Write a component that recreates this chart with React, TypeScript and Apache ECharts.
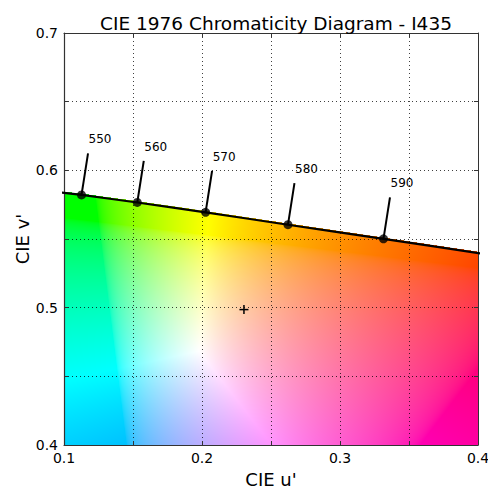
import React, { useEffect, useRef } from "react";
import * as echarts from "echarts";

// Spectral locus (CIE 1976 u'v'), wavelengths in nm
const locusWavelengths = [540, 545, 550, 555, 560, 565, 570, 575, 580, 585, 590, 595, 600];
const locusU = [0.0792, 0.0953, 0.1127, 0.1319, 0.1531, 0.1766, 0.2026, 0.2312, 0.2623, 0.296, 0.3315, 0.3681, 0.4035];
const locusV = [0.5856, 0.5841, 0.5821, 0.5795, 0.5766, 0.5732, 0.5694, 0.5651, 0.5604, 0.5554, 0.5501, 0.5446, 0.5393];

// Labelled wavelengths
const labelWavelengths = [550, 560, 570, 580, 590];
const labelU = [0.1127, 0.1531, 0.2026, 0.2623, 0.3315];
const labelV = [0.5821, 0.5766, 0.5694, 0.5604, 0.5501];

// Illuminant I435 marker
const illuminantU = [0.2304];
const illuminantV = [0.4986];

const uMin = 0.1, uMax = 0.4, vMin = 0.4, vMax = 0.7;
const FONT = '"DejaVu Sans", "Liberation Sans", sans-serif';

function locusAt(u: number): number {
  for (let i = 0; i < locusU.length - 1; i++) {
    if (u >= locusU[i] && u <= locusU[i + 1]) {
      const t = (u - locusU[i]) / (locusU[i + 1] - locusU[i]);
      return locusV[i] + t * (locusV[i + 1] - locusV[i]);
    }
  }
  return u < locusU[0] ? locusV[0] : locusV[locusV.length - 1];
}

function enc(c: number): number {
  const v = c <= 0.0031308 ? 12.92 * c : 1.055 * Math.pow(c, 1 / 2.4) - 0.055;
  return Math.max(0, Math.min(255, Math.round(v * 255)));
}

function buildField(w: number, h: number): string {
  const cv = document.createElement("canvas");
  cv.width = w;
  cv.height = h;
  const ctx = cv.getContext("2d")!;
  const img = ctx.createImageData(w, h);
  for (let j = 0; j < h; j++) {
    const v = vMax - ((j + 0.5) / h) * (vMax - vMin);
    for (let i = 0; i < w; i++) {
      const u = uMin + ((i + 0.5) / w) * (uMax - uMin);
      const k = (j * w + i) * 4;
      if (v > locusAt(u) + 0.001) {
        img.data[k + 3] = 0;
        continue;
      }
      const d = 6 * u - 16 * v + 12;
      const x = (9 * u) / d;
      const y = (4 * v) / d;
      const X = x / y, Y = 1, Z = (1 - x - y) / y;
      let r = 3.2406 * X - 1.5372 * Y - 0.4986 * Z;
      let g = -0.9689 * X + 1.8758 * Y + 0.0415 * Z;
      let b = 0.0557 * X - 0.204 * Y + 1.057 * Z;
      r = Math.max(0, r); g = Math.max(0, g); b = Math.max(0, b);
      const m = Math.max(r, g, b) || 1;
      img.data[k] = enc(r / m);
      img.data[k + 1] = enc(g / m);
      img.data[k + 2] = enc(b / m);
      img.data[k + 3] = 255;
    }
  }
  ctx.putImageData(img, 0, 0);
  return cv.toDataURL();
}

export default function App() {
  const ref = useRef<HTMLDivElement>(null);
  useEffect(() => {
    if (!ref.current) return;
    const chart = echarts.init(ref.current, null, { renderer: "svg" });
    const field = buildField(414, 412);
    const tenth = (val: number) =>
      Math.abs(val * 10 - Math.round(val * 10)) < 1e-6 ? val.toFixed(1) : "";
    const gridLine = { show: true, lineStyle: { color: "rgba(0,0,0,0.75)", width: 1, type: [1, 3] as any } };
    const axisCommon = {
      type: "value" as const,
      interval: 0.05,
      z: 1,
      axisLine: { show: true, onZero: false, lineStyle: { color: "#333", width: 1.2 } },
      axisTick: { show: true, inside: true, length: 4, lineStyle: { color: "#333" } },
      splitLine: gridLine,
      nameLocation: "middle" as const,
      nameMoveOverlap: false,
      nameTextStyle: { fontFamily: FONT, fontSize: 18, color: "#000" },
    };
    const frameAxis = {
      type: "value" as const,
      interval: 0.05,
      z: 1,
      axisLine: { show: true, onZero: false, lineStyle: { color: "#333", width: 1 } },
      axisTick: { show: true, inside: true, length: 4, lineStyle: { color: "#333" } },
      axisLabel: { show: false },
      splitLine: { show: false },
    };
    chart.setOption({
      animation: false,
      backgroundColor: "#fff",
      title: {
        text: "CIE 1976 Chromaticity Diagram - I435",
        left: 271,
        top: 9,
        textAlign: "center",
        textStyle: { fontFamily: FONT, fontSize: 18.5, fontWeight: "normal", color: "#000" },
      },
      grid: { left: 64, right: 10, top: 33, bottom: 43, containLabel: false, outerBoundsMode: "none" },
      xAxis: [
        {
          ...axisCommon,
          min: uMin,
          max: uMax,
          name: "CIE u'",
          nameGap: 25,
          axisLabel: { formatter: tenth, fontFamily: FONT, fontSize: 14, color: "#000", margin: 6 },
        },
        { ...frameAxis, min: uMin, max: uMax, position: "top" },
      ],
      yAxis: [
        {
          ...axisCommon,
          min: vMin,
          max: vMax,
          name: "CIE v'",
          nameGap: 33,
          axisLabel: { formatter: tenth, fontFamily: FONT, fontSize: 14, color: "#000", margin: 6 },
        },
        { ...frameAxis, min: vMin, max: vMax, position: "right" },
      ],
      series: [
        {
          type: "custom",
          z: 0,
          silent: true,
          clip: true,
          data: [[uMin, vMax, uMax, vMin]],
          encode: { x: [0, 2], y: [1, 3] },
          renderItem: (params: any, api: any) => {
            const tl = api.coord([api.value(0), api.value(1)]);
            const br = api.coord([api.value(2), api.value(3)]);
            return {
              type: "image",
              style: { image: field, x: tl[0], y: tl[1], width: br[0] - tl[0], height: br[1] - tl[1] },
            };
          },
        },
        {
          type: "line",
          z: 5,
          data: locusU.map((u, i) => [u, locusV[i], locusWavelengths[i]]),
          showSymbol: false,
          clip: true,
          lineStyle: { color: "#000", width: 2.2 },
        },
        {
          type: "custom",
          z: 6,
          data: labelU.map((u, i) => [u, labelV[i], labelWavelengths[i]]),
          renderItem: (params: any, api: any) => {
            const p = api.coord([api.value(0), api.value(1)]);
            return {
              type: "group",
              children: [
                {
                  type: "line",
                  shape: { x1: p[0], y1: p[1], x2: p[0] + 6.5, y2: p[1] - 41.5 },
                  style: { stroke: "#000", lineWidth: 2 },
                },
                {
                  type: "text",
                  x: p[0] + 18.5,
                  y: p[1] - 55.5,
                  style: {
                    text: String(api.value(2)),
                    fill: "#000",
                    font: `12px ${FONT}`,
                    align: "center",
                    verticalAlign: "middle",
                  },
                },
              ],
            };
          },
        },
        {
          type: "scatter",
          z: 7,
          data: labelU.map((u, i) => [u, labelV[i]]),
          symbol: "circle",
          symbolSize: 9,
          itemStyle: { color: "#000" },
        },
        {
          type: "custom",
          z: 7,
          data: illuminantU.map((u, i) => [u, illuminantV[i]]),
          renderItem: (params: any, api: any) => {
            const p = api.coord([api.value(0), api.value(1)]);
            return {
              type: "group",
              children: [
                { type: "line", shape: { x1: p[0] - 4.5, y1: p[1], x2: p[0] + 4.5, y2: p[1] }, style: { stroke: "#000", lineWidth: 1.5 } },
                { type: "line", shape: { x1: p[0], y1: p[1] - 4.5, x2: p[0], y2: p[1] + 4.5 }, style: { stroke: "#000", lineWidth: 1.5 } },
              ],
            };
          },
        },
      ],
    });
    return () => chart.dispose();
  }, []);
  return <div ref={ref} style={{ width: 488, height: 488, position: "absolute", left: 0, top: 0 }} />;
}
